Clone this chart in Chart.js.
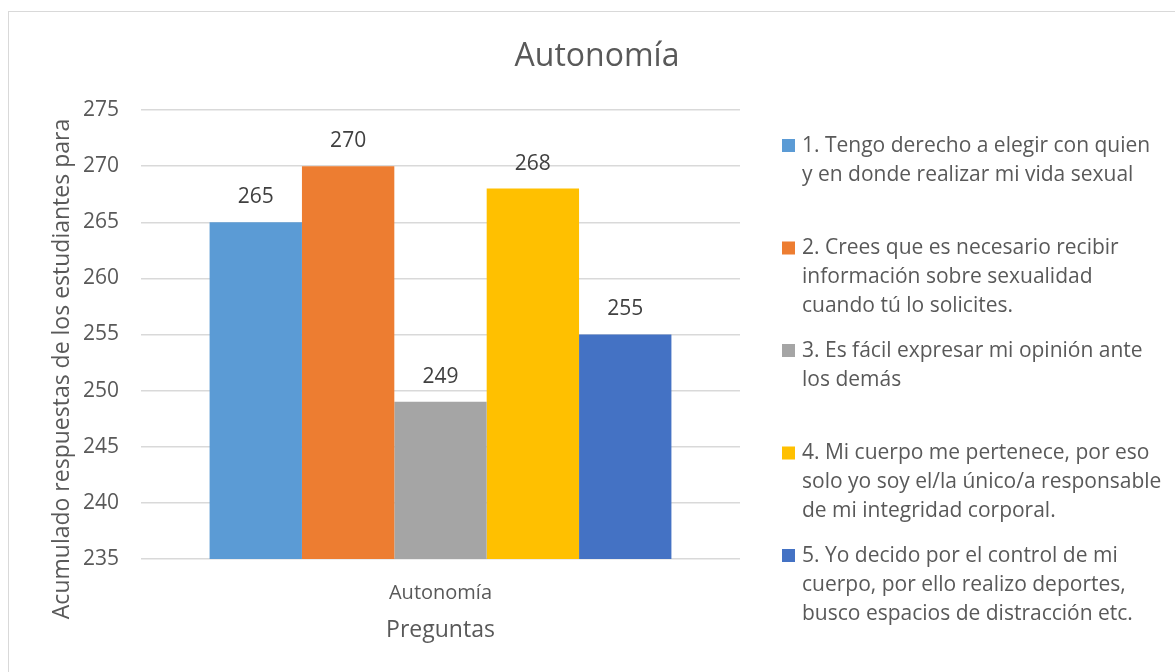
<!DOCTYPE html>
<html>
<head>
<meta charset="utf-8">
<script src="https://cdn.jsdelivr.net/npm/chart.js@4"></script>
<style>
  html, body { margin: 0; padding: 0; background: #fff; }
  #wrap { position: relative; width: 1175px; height: 672px; }
  #frame { position: absolute; left: 8px; top: 11px; right: -2px; bottom: -2px; border: 1px solid #d9d9d9; }
  canvas { position: absolute; left: 0; top: 0; }
</style>
</head>
<body>
<div id="wrap">
  <div id="frame"></div>
  <canvas id="myChart" width="1175" height="672"></canvas>
</div>
<script>
const chartTitle = 'Autonomía';
const yTitle = 'Acumulado respuestas de los estudiantes para';
const xTitle = 'Preguntas';
const categories = ['Autonomía'];
const seriesLabels = [
    ['1. Tengo derecho a elegir con quien', 'y en donde realizar mi vida sexual'],
    ['2. Crees que es necesario recibir', 'información sobre sexualidad', 'cuando tú lo solicites.'],
    ['3. Es fácil expresar mi opinión ante', 'los demás'],
    ['4. Mi cuerpo me pertenece, por eso', 'solo yo soy el/la único/a responsable', 'de mi integridad corporal.'],
    ['5. Yo decido por el control de mi', 'cuerpo, por ello realizo deportes,', 'busco espacios de distracción etc.']
];
const seriesValues = [265, 270, 249, 268, 255];
const seriesColors = ['#5B9BD5', '#ED7D31', '#A5A5A5', '#FFC000', '#4472C4'];
const yTicks = [235, 240, 245, 250, 255, 260, 265, 270, 275];

const FONT = '"Open Sans", "Noto Sans", sans-serif';
const TEXT = '#595959';

// value labels above each bar
const valueLabels = {
    id: 'valueLabels',
    afterDatasetsDraw(chart) {
        const ctx = chart.ctx;
        ctx.save();
        ctx.font = '21px ' + FONT;
        ctx.fillStyle = '#404040';
        ctx.textAlign = 'center';
        ctx.textBaseline = 'middle';
        chart.data.datasets.forEach((ds, i) => {
            chart.getDatasetMeta(i).data.forEach((bar, j) => {
                ctx.fillText(ds.data[j], bar.x, bar.y - 25);
            });
        });
        ctx.restore();
    }
};

// title centred on the whole picture, y axis title (clipped like the original), legend on the right
const extras = {
    id: 'extras',
    afterDraw(chart) {
        const ctx = chart.ctx;
        ctx.save();
        ctx.fillStyle = TEXT;
        ctx.textBaseline = 'middle';
        ctx.textAlign = 'center';
        ctx.font = '32px ' + FONT;
        ctx.fillText(chartTitle, 597, 57);

        ctx.save();
        ctx.translate(62, 369);
        ctx.rotate(-Math.PI / 2);
        ctx.font = '23px ' + FONT;
        ctx.fillText(yTitle, 0, 0);
        ctx.restore();

        ctx.font = '21px ' + FONT;
        ctx.textAlign = 'left';
        chart.data.datasets.forEach((ds, i) => {
            const y0 = 146 + i * 102.5;
            ctx.fillStyle = ds.backgroundColor;
            ctx.fillRect(782, y0 - 7, 13, 13);
            ctx.fillStyle = TEXT;
            ds.label.forEach((line, k) => {
                ctx.fillText(line, 802, y0 + k * 29);
            });
        });
        ctx.restore();
    }
};

const ctx = document.getElementById('myChart').getContext('2d');
new Chart(ctx, {
    type: 'bar',
    data: {
        labels: categories,
        datasets: seriesValues.map((v, i) => ({
            label: seriesLabels[i],
            data: [v],
            backgroundColor: seriesColors[i],
            borderWidth: 0,
            categoryPercentage: 0.771,
            barPercentage: 1
        }))
    },
    options: {
        responsive: false,
        animation: false,
        layout: {
            padding: { left: 0, right: 435, top: 110, bottom: 24 }
        },
        scales: {
            x: {
                grid: { display: false },
                border: { display: false },
                ticks: { color: TEXT, font: { family: FONT, size: 20 }, padding: 14 },
                title: {
                    display: true,
                    text: xTitle,
                    color: TEXT,
                    font: { family: FONT, size: 23 },
                    padding: { top: 4, bottom: 4 }
                },
                afterFit: s => { s.height = 89; }
            },
            y: {
                min: 235,
                max: 275,
                afterBuildTicks: s => { s.ticks = yTicks.map(v => ({ value: v })); },
                grid: { color: '#d9d9d9', lineWidth: 1.5, drawTicks: false },
                border: { display: false },
                ticks: { color: TEXT, font: { family: FONT, size: 21 }, padding: 22 },
                afterFit: s => { s.width = 141; }
            }
        },
        plugins: {
            legend: { display: false },
            tooltip: { enabled: false },
            title: { display: false }
        }
    },
    plugins: [valueLabels, extras]
});
</script>
</body>
</html>
